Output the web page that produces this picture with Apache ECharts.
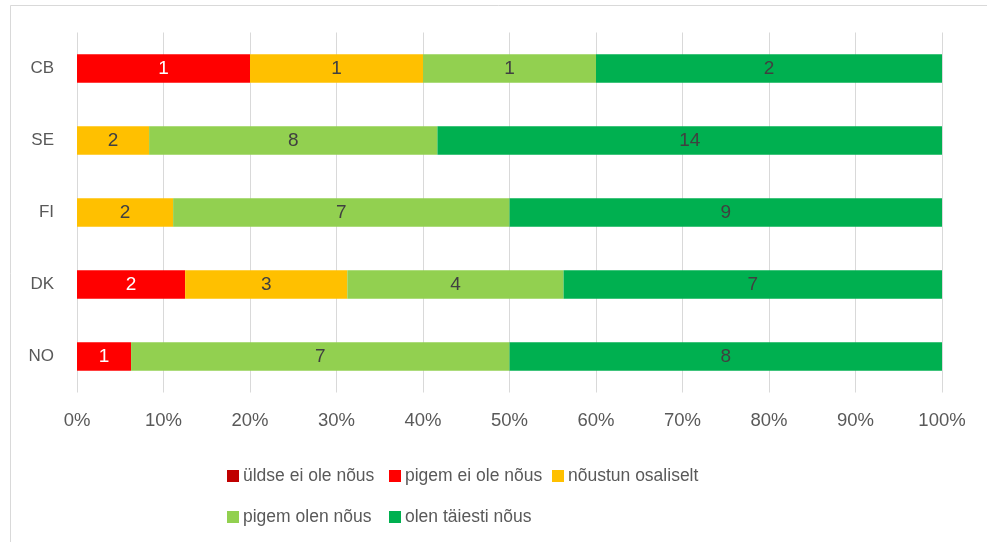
<!DOCTYPE html>
<html>
<head>
<meta charset="utf-8">
<script src="https://cdn.jsdelivr.net/npm/echarts@6/dist/echarts.min.js"></script>
<style>
  html, body { margin: 0; padding: 0; background: #fff; }
  #chart { width: 987px; height: 542px; }
</style>
</head>
<body>
<div id="chart"></div>
<script>
// Country groups, bottom to top on the category axis
const categories = ['NO', 'DK', 'FI', 'SE', 'CB'];

// Answer options (legend order)
const seriesNames = ['üldse ei ole nõus', 'pigem ei ole nõus', 'nõustun osaliselt', 'pigem olen nõus', 'olen täiesti nõus'];

// Number of respondents per answer, in category order (NO, DK, FI, SE, CB)
const uldseEiOleNous   = [0, 0, 0, 0, 0];
const pigemEiOleNous   = [1, 2, 0, 0, 1];
const noustunOsaliselt = [0, 3, 2, 2, 1];
const pigemOlenNous    = [7, 4, 7, 8, 1];
const olenTaiestiNous  = [8, 7, 9, 14, 2];

// X axis tick labels
const xTicks = [0, 10, 20, 30, 40, 50, 60, 70, 80, 90, 100];

const counts = [uldseEiOleNous, pigemEiOleNous, noustunOsaliselt, pigemOlenNous, olenTaiestiNous];
const colors = ['#C00000', '#FF0000', '#FFC000', '#92D050', '#00B050'];
const labelColors = ['#FFFFFF', '#FFFFFF', '#404040', '#404040', '#404040'];

const totals = categories.map((_, i) => counts.reduce((s, arr) => s + arr[i], 0));

const FONT = '"Liberation Sans", Arial, sans-serif';

const series = seriesNames.map((name, k) => ({
  name: name,
  type: 'bar',
  stack: 'share',
  barWidth: 28.5,
  itemStyle: { color: colors[k] },
  label: {
    show: true,
    position: 'inside',
    color: labelColors[k],
    fontSize: 19,
    fontFamily: FONT,
    formatter: p => (p.data.count > 0 ? String(p.data.count) : '')
  },
  data: counts[k].map((c, i) => ({ value: c / totals[i] * 100, count: c }))
}));

// Legend item placement: two rows
const legendSlots = [
  { left: 227, top: 467 },
  { left: 389, top: 467 },
  { left: 552, top: 467 },
  { left: 227, top: 508 },
  { left: 389, top: 508 }
];
const legends = seriesNames.map((name, k) => ({
  data: [name],
  left: legendSlots[k].left,
  top: legendSlots[k].top,
  padding: 0,
  itemWidth: 12,
  itemHeight: 12,
  icon: 'rect',
  selectedMode: false,
  textStyle: { fontSize: 17.5, color: '#595959', fontFamily: FONT, padding: [0, 0, 0, -1] }
}));

const chart = echarts.init(document.getElementById('chart'), null, { renderer: 'canvas' });
chart.setOption({
  animation: false,
  backgroundColor: '#ffffff',
  textStyle: { fontFamily: FONT },
  grid: { left: 77, right: 45, top: 32.5, height: 360, containLabel: false },
  xAxis: {
    type: 'value',
    min: xTicks[0],
    max: xTicks[xTicks.length - 1],
    interval: xTicks[1] - xTicks[0],
    axisLine: { show: false },
    axisTick: { show: false },
    axisLabel: { formatter: '{value}%', color: '#595959', fontSize: 18.5, margin: 19, fontFamily: FONT },
    splitLine: { show: true, lineStyle: { color: '#D9D9D9', width: 1 } }
  },
  yAxis: {
    type: 'category',
    data: categories,
    axisLine: { show: false },
    axisTick: { show: false },
    axisLabel: { color: '#595959', fontSize: 17, margin: 23, fontFamily: FONT },
    splitLine: { show: false }
  },
  legend: legends,
  series: series,
  graphic: [
    { type: 'line', shape: { x1: 10.5, y1: 5.5, x2: 987, y2: 5.5 }, style: { stroke: '#D9D9D9', lineWidth: 1 }, silent: true },
    { type: 'line', shape: { x1: 10.5, y1: 5.5, x2: 10.5, y2: 542 }, style: { stroke: '#D9D9D9', lineWidth: 1 }, silent: true }
  ]
});
</script>
</body>
</html>
